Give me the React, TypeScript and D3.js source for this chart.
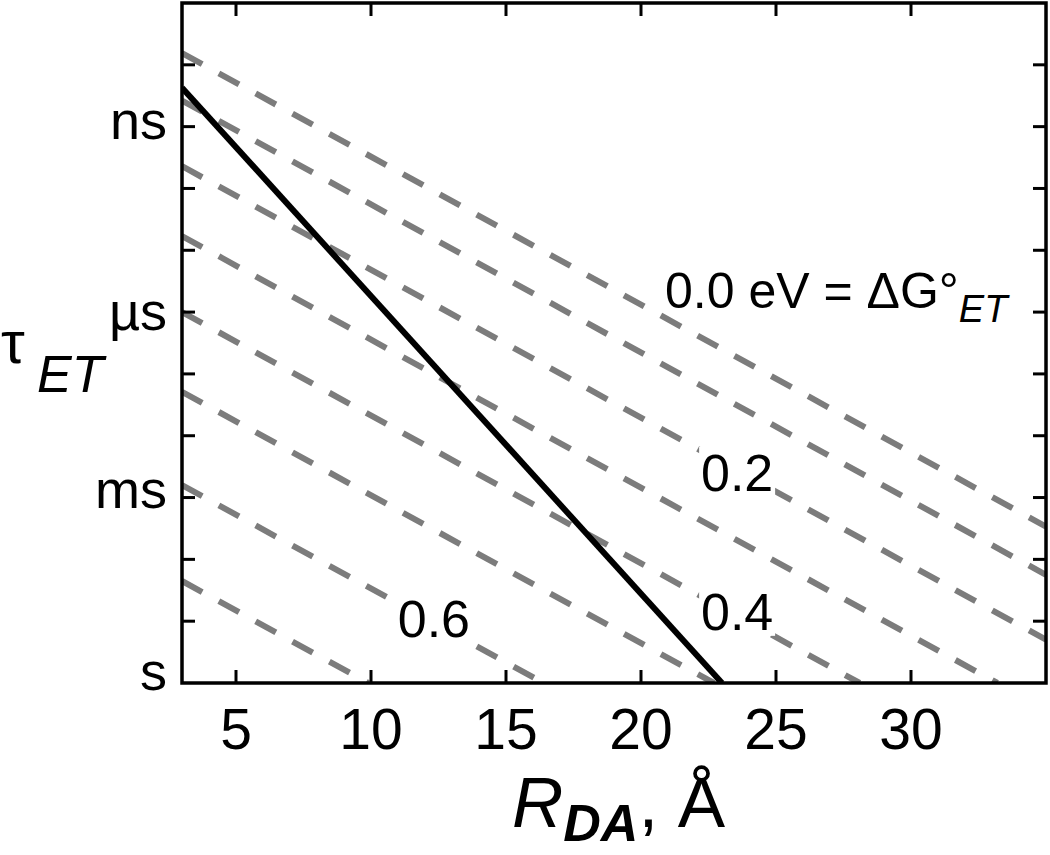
import React from "react";
import * as d3 from "d3";

// distance axis (Å) and lifetime axis (log10 of seconds)
const rTicks = [5, 10, 15, 20, 25, 30];
const tauMinorTicks = [-10, -9, -8, -7, -6, -5, -4, -3, -2, -1];
const tauLabelValues = [-9, -6, -3, 0];
const tauLabelNames = ["ns", "µs", "ms", "s"];

// dashed lines, one per driving force (eV); values read at both ends
const dgValues = [0.0, 0.1, 0.2, 0.3, 0.4, 0.5, 0.6, 0.7];
const dgStartR = [3, 3, 3, 3, 3, 3, 3, 3];
const dgStartLogTau = [-10.19, -9.42, -8.36, -7.23, -6.0, -4.71, -3.2, -1.65];
const dgEndR = [35, 35, 35, 33.2, 28.1, 22.7, 16.4, 9.9];
const dgEndLogTau = [-2.53, -1.75, -0.7, 0, 0, 0, 0, 0];

// solid black line
const solidR = [3, 23.0];
const solidLogTau = [-9.63, 0];

// labelled curves
const labelText = ["0.2", "0.4", "0.6"];
const labelR = [23.56, 23.56, 12.33];
const labelLogTau = [-3.11, -0.86, -0.75];

const width = 1050;
const height = 855;
const left = 182;
const right = 1046;
const top = 3;
const bottom = 683;
const font = "'Liberation Sans', Arial, sans-serif";
const tauLabelDy = [12, 18, 10, 7];

const x = d3.scaleLinear().domain([3, 35]).range([left, right]);
const y = d3.scaleLinear().domain([-11, 0]).range([top, bottom]);

const line = d3
  .line<[number, number]>()
  .x(d => x(d[0]))
  .y(d => y(d[1]));

const App = () => {
  const dashed = dgValues.map((dg, i) => ({
    dg,
    pts: [
      [dgStartR[i], dgStartLogTau[i]],
      [dgEndR[i], dgEndLogTau[i]]
    ] as [number, number][]
  }));
  const solid = solidR.map((r, i) => [r, solidLogTau[i]] as [number, number]);

  return (
    <svg
      width={width}
      height={height}
      viewBox={`0 0 ${width} ${height}`}
      style={{ position: "absolute", left: 0, top: 0, background: "#fff" }}
      fontFamily={font}
    >
      <defs>
        <clipPath id="plot">
          <rect x={left} y={top} width={right - left} height={bottom - top} />
        </clipPath>
      </defs>

      <g clipPath="url(#plot)">
        {dashed.map(d => (
          <path
            key={d.dg}
            d={line(d.pts) || ""}
            fill="none"
            stroke="#7c7c7c"
            strokeWidth={6}
            strokeDasharray="23 19"
          />
        ))}
        <path d={line(solid) || ""} fill="none" stroke="#000" strokeWidth={6} />
      </g>

      {/* labels on dashed lines, with a white knockout */}
      {labelText.map((t, i) => (
        <g key={t}>
          <rect
            x={x(labelR[i]) - 38}
            y={y(labelLogTau[i]) - 44}
            width={76}
            height={50}
            fill="#fff"
          />
          <text
            x={x(labelR[i])}
            y={y(labelLogTau[i])}
            textAnchor="middle"
            fontSize={52}
          >
            {t}
          </text>
        </g>
      ))}
      <text x={x(20.89)} y={y(-6.07)} fontSize={50}>
        0.0 eV = ΔG°
        <tspan fontStyle="italic" fontSize={38} dy={14}>
          ET
        </tspan>
      </text>

      {/* frame */}
      <rect
        x={left}
        y={top}
        width={right - left}
        height={bottom - top}
        fill="none"
        stroke="#000"
        strokeWidth={3.5}
      />

      {/* ticks, all pointing inwards */}
      {rTicks.map(t => (
        <g key={t}>
          <line x1={x(t)} x2={x(t)} y1={bottom} y2={bottom - 13} stroke="#000" strokeWidth={3} />
          <line x1={x(t)} x2={x(t)} y1={top} y2={top + 13} stroke="#000" strokeWidth={3} />
          <text x={x(t)} y={749} textAnchor="middle" fontSize={57}>
            {t}
          </text>
        </g>
      ))}
      {tauMinorTicks.map(t => (
        <g key={t}>
          <line x1={left} x2={left + 13} y1={y(t)} y2={y(t)} stroke="#000" strokeWidth={3} />
          <line x1={right} x2={right - 13} y1={y(t)} y2={y(t)} stroke="#000" strokeWidth={3} />
        </g>
      ))}
      {tauLabelValues.map((v, i) => (
        <text
          key={v}
          x={167}
          y={y(v) + tauLabelDy[i]}
          textAnchor="end"
          fontSize={54}
        >
          {tauLabelNames[i]}
        </text>
      ))}

      {/* axis titles */}
      <text x={1} y={363} fontSize={60}>
        τ
      </text>
      <text x={37} y={392} fontSize={52} fontStyle="italic">
        ET
      </text>
      <text x={512} y={827} fontSize={71}>
        <tspan fontStyle="italic">R</tspan>
        <tspan fontStyle="italic" fontWeight="bold" fontSize={52} dy={14}>
          DA
        </tspan>
        <tspan dy={-14}>, Å</tspan>
      </text>
    </svg>
  );
};

export default App;
